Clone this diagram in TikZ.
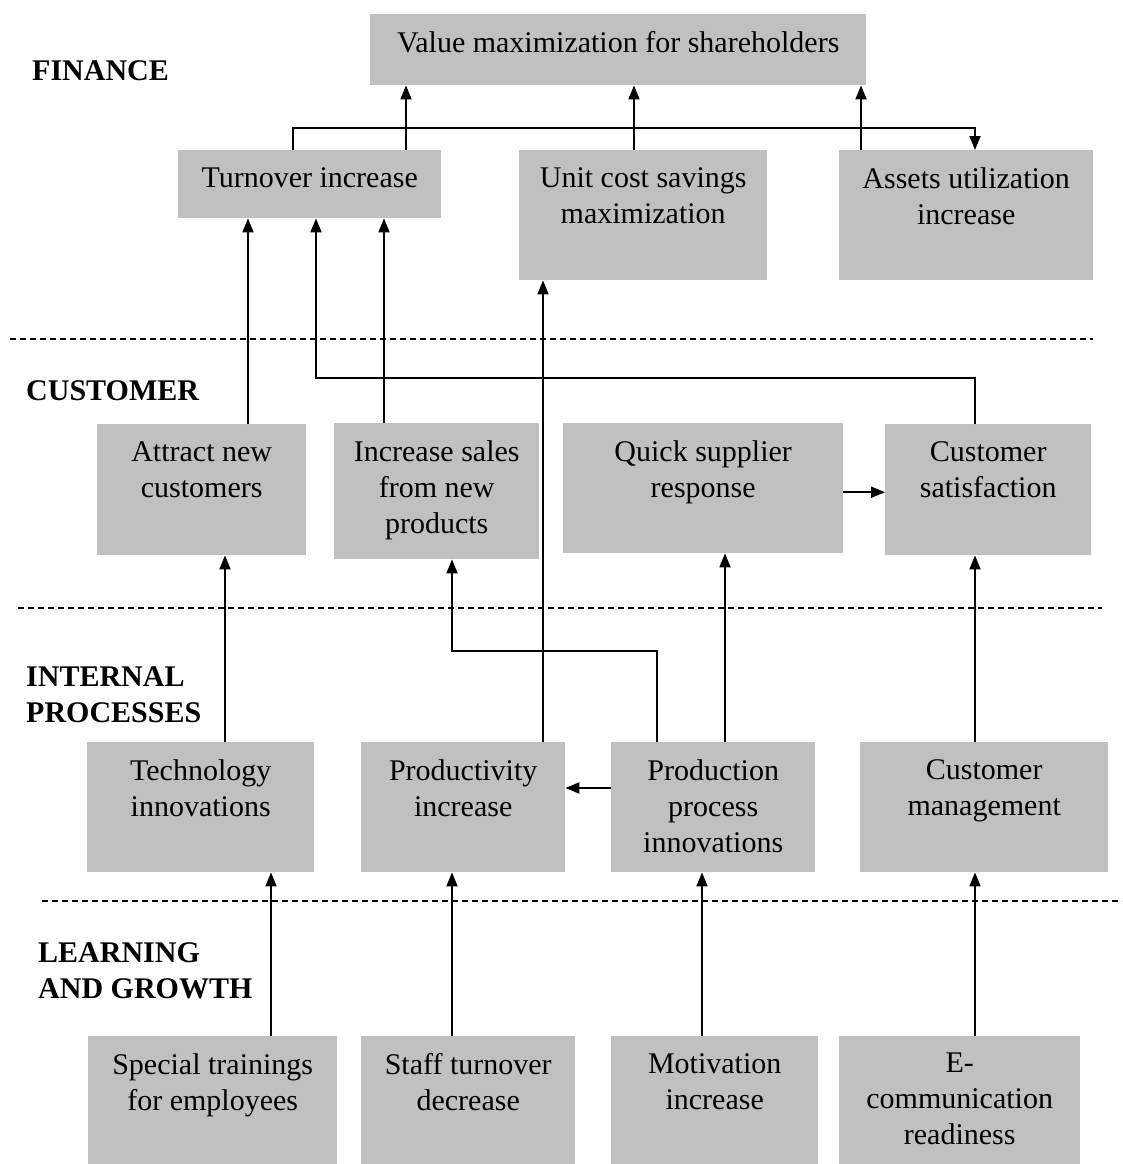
\documentclass[tikz,border=0pt]{standalone}
\usepackage{fontspec}
\setmainfont{Liberation Serif}
\usetikzlibrary{arrows.meta, calc}
\definecolor{boxfill}{HTML}{C0C0C0}
\definecolor{ink}    {HTML}{000000}
\newcommand{\blkfont}{\fontsize{30}{36}\selectfont}

\begin{document}
\begin{tikzpicture}[x=1pt, y=-1pt,
    blk/.style={fill=boxfill, anchor=north west, inner sep=0pt},
    txt/.style={anchor=north, align=center, font=\blkfont, text=ink,
                inner sep=0pt, yshift=-17pt},
    head/.style={anchor=north west, align=left, inner sep=0pt,
                 font=\blkfont\bfseries, text=ink},
    arr/.style={draw=ink, line width=1.8pt, -{Triangle[length=14pt, width=11pt]}},
    sep/.style={draw=ink, line width=1.5pt, dash pattern=on 6pt off 4pt}]
    \useasboundingbox (0,0) rectangle (1122,1164);

    % section rules and headings
    \draw[sep] (10,339) -- (1093,339);
    \draw[sep] (18,608) -- (1102,608);
    \draw[sep] (42,901) -- (1122,901);
    \node[head] (hfin) at (32,60) {FINANCE};
    \node[head] (hcus) at (26,380) {CUSTOMER};
    \node[head] (hint) at (26,666) {INTERNAL\\PROCESSES};
    \node[head] (hlrn) at (38,942) {LEARNING\\AND GROWTH};

    % finance
    \node[blk, minimum width=496pt, minimum height=71pt,
      label={[txt]north:Value maximization for shareholders}] (value) at (370,14) {};
    \node[blk, minimum width=263pt, minimum height=68pt,
      label={[txt]north:Turnover increase}] (turn) at (178,150) {};
    \node[blk, minimum width=248pt, minimum height=130pt,
      label={[txt]north:Unit cost savings\\maximization}] (unit) at (519,150) {};
    \node[blk, minimum width=254pt, minimum height=130pt,
      label={[txt]north:Assets utilization\\increase}] (assets) at (839,150) {};

    % customer
    \node[blk, minimum width=209pt, minimum height=131pt,
      label={[txt]north:Attract new\\customers}] (attract) at (97,424) {};
    \node[blk, minimum width=205pt, minimum height=136pt,
      label={[txt]north:Increase sales\\from new\\products}] (sales) at (334,423) {};
    \node[blk, minimum width=280pt, minimum height=130pt,
      label={[txt]north:Quick supplier\\response}] (quick) at (563,423) {};
    \node[blk, minimum width=206pt, minimum height=131pt,
      label={[txt]north:Customer\\satisfaction}] (csat) at (885,424) {};

    % internal processes
    \node[blk, minimum width=227pt, minimum height=130pt,
      label={[txt]north:Technology\\innovations}] (tech) at (87,742) {};
    \node[blk, minimum width=204pt, minimum height=130pt,
      label={[txt]north:Productivity\\increase}] (prod) at (361,742) {};
    \node[blk, minimum width=204pt, minimum height=130pt,
      label={[txt]north:Production\\process\\innovations}] (proc) at (611,742) {};
    \node[blk, minimum width=248pt, minimum height=130pt,
      label={[txt]north:Customer\\management}] (cman) at (860,742) {};

    % learning and growth
    \node[blk, minimum width=249pt, minimum height=128pt,
      label={[txt]north:Special trainings\\for employees}] (train) at (88,1036) {};
    \node[blk, minimum width=214pt, minimum height=128pt,
      label={[txt]north:Staff turnover\\decrease}] (staff) at (361,1036) {};
    \node[blk, minimum width=207pt, minimum height=128pt,
      label={[txt]north:Motivation\\increase}] (motiv) at (611,1036) {};
    \node[blk, minimum width=241pt, minimum height=128pt,
      label={[txt]north:E-\\communication\\readiness}] (ecomm) at (839,1036) {};

    % links into finance
    \draw[arr] ($(turn.north west)+(228,0)$) -- ($(value.south west)+(36,0)$);
    \draw[arr] ($(unit.north west)+(115,0)$) -- ($(value.south west)+(264,0)$);
    \draw[arr] ($(assets.north west)+(22,0)$) -- ($(value.south west)+(491,0)$);
    \draw[arr] ($(turn.north west)+(115,0)$) -- ++(0,-22)
      -| ($(assets.north west)+(136,0)$);
    \draw[arr] ($(attract.north west)+(151,0)$) -- ($(turn.south west)+(70,0)$);
    \draw[arr] ($(sales.north west)+(50,0)$) -- ($(turn.south west)+(206,0)$);
    \draw[arr] ($(csat.north west)+(90,0)$) -- ++(0,-46)
      -| ($(turn.south west)+(138,0)$);
    \draw[arr] ($(prod.north west)+(182,0)$) -- ($(unit.south west)+(24,0)$);

    % links into customer
    \draw[arr] ($(tech.north west)+(138,0)$) -- ($(attract.south west)+(128,0)$);
    \draw[arr] ($(proc.north west)+(46,0)$) -- ++(0,-91)
      -| ($(sales.south west)+(118,0)$);
    \draw[arr] ($(proc.north west)+(114,0)$) -- ($(quick.south west)+(162,0)$);
    \draw[arr] ([yshift=-4pt]quick.east) -- ([yshift=-4pt]quick.east -| csat.west);
    \draw[arr] ($(cman.north west)+(115,0)$) -- ($(csat.south west)+(90,0)$);

    % links into internal processes
    \draw[arr] ($(proc.north west)+(0,46)$) -- ($(prod.north east)+(0,46)$);
    \draw[arr] ($(train.north west)+(183,0)$) -- ($(tech.south west)+(184,0)$);
    \draw[arr] ($(staff.north west)+(91,0)$) -- ($(prod.south west)+(91,0)$);
    \draw[arr] ($(motiv.north west)+(91,0)$) -- ($(proc.south west)+(91,0)$);
    \draw[arr] ($(ecomm.north west)+(136,0)$) -- ($(cman.south west)+(115,0)$);
\end{tikzpicture}
\end{document}
